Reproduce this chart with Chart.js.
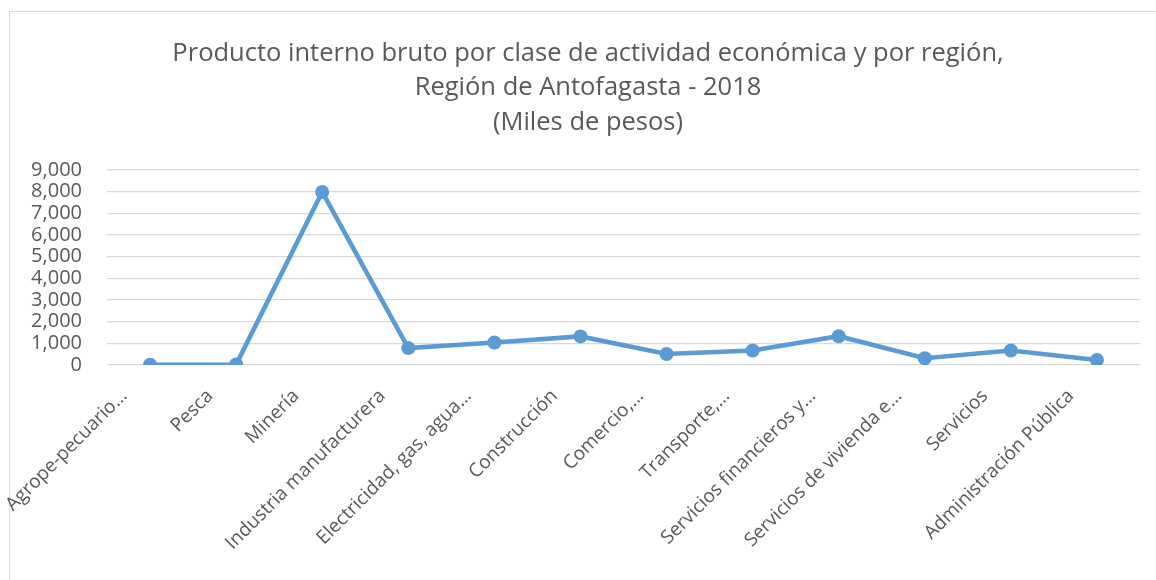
<!DOCTYPE html>
<html>
<head>
<meta charset="utf-8">
<script src="https://cdn.jsdelivr.net/npm/chart.js@4"></script>
<style>
  html, body { margin: 0; padding: 0; background: #ffffff; }
  #wrap { position: relative; width: 1156px; height: 580px; overflow: hidden; }
  #frame { position: absolute; left: 9px; top: 11px; width: 1200px; height: 620px; border: 1px solid #d9d9d9; box-sizing: border-box; }
  #c { position: absolute; left: 0; top: 0; }
</style>
</head>
<body>
<div id="wrap">
  <div id="frame"></div>
  <canvas id="c" width="1156" height="580"></canvas>
</div>
<script>
const titleLines = [
  "Producto interno bruto por clase de actividad económica y por región,",
  "Región de Antofagasta - 2018",
  "(Miles de pesos)"
];
const categories = [
  "Agrope-pecuario…",
  "Pesca",
  "Minería",
  "Industria manufacturera",
  "Electricidad, gas, agua…",
  "Construcción",
  "Comercio,…",
  "Transporte,…",
  "Servicios financieros y…",
  "Servicios de vivienda e…",
  "Servicios",
  "Administración Pública"
];
const pibValues = [15, 20, 7990, 780, 1040, 1320, 510, 670, 1330, 310, 670, 230];
const yTickMin = 0;
const yTickMax = 9000;
const yTickStep = 1000;

const textColor = "#595959";
const lineColor = "#5B9BD5";
const FONT = "'Open Sans', sans-serif";

// shift the title box so that its centre matches the frame's centre
const titleShift = {
  id: "titleShift",
  afterLayout(chart) {
    if (chart.titleBlock) { chart.titleBlock.left = 36; }
  }
};

new Chart(document.getElementById("c"), {
  type: "line",
  plugins: [titleShift],
  data: {
    labels: categories,
    datasets: [{
      label: "PIB",
      data: pibValues,
      borderColor: lineColor,
      backgroundColor: lineColor,
      borderWidth: 4.6,
      pointRadius: 7,
      pointHoverRadius: 7,
      pointBackgroundColor: lineColor,
      pointBorderColor: lineColor,
      pointBorderWidth: 0,
      tension: 0,
      fill: false
    }]
  },
  options: {
    responsive: false,
    animation: false,
    layout: { padding: { left: 0, right: 16, top: 14, bottom: 0 } },
    plugins: {
      legend: { display: false },
      tooltip: { enabled: false },
      title: {
        display: true,
        text: titleLines,
        color: textColor,
        font: { family: FONT, size: 25.5, weight: "normal", lineHeight: 1.36 },
        padding: { top: 22, bottom: 30 }
      }
    },
    scales: {
      x: {
        offset: true,
        grid: { display: false, drawTicks: false, offset: true },
        border: { display: false },
        ticks: {
          color: textColor,
          font: { family: FONT, size: 19 },
          maxRotation: 45,
          minRotation: 45,
          autoSkip: false,
          padding: 20,
          labelOffset: -26
        },
        afterFit: (s) => { s.height = 215; }
      },
      y: {
        min: yTickMin,
        max: yTickMax,
        grid: { color: "#d9d9d9", lineWidth: 1.3, drawTicks: false },
        border: { display: false },
        ticks: {
          stepSize: yTickStep,
          autoSkip: false,
          color: textColor,
          font: { family: FONT, size: 20 },
          padding: 25,
          callback: (v) => v.toLocaleString("en-US")
        },
        afterFit: (s) => { s.width = 107; }
      }
    }
  }
});
</script>
</body>
</html>
